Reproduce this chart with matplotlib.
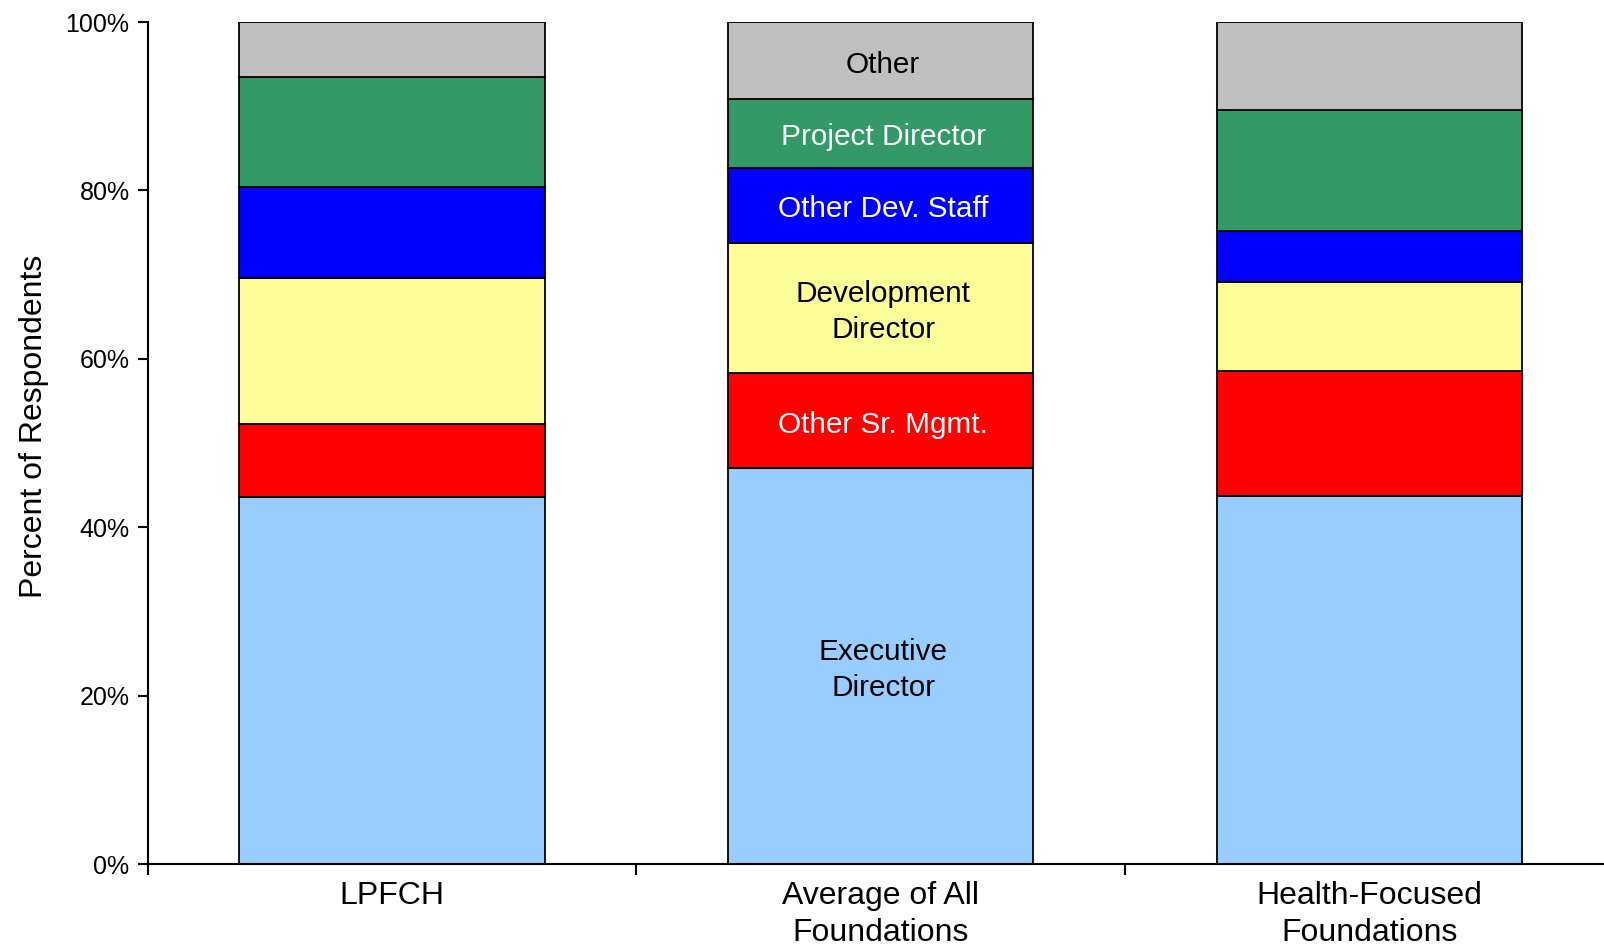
import numpy as np
import matplotlib.pyplot as plt

plt.rcParams['font.family'] = ['Liberation Sans', 'DejaVu Sans']

groups = ['LPFCH', 'Average of All\nFoundations', 'Health-Focused\nFoundations']
roles = ['Executive\nDirector', 'Other Sr. Mgmt.', 'Development\nDirector',
         'Other Dev. Staff', 'Project Director', 'Other']

# percent of respondents in each role, per group
executive = [43.6, 47.0, 43.7]
sr_mgmt = [8.7, 11.3, 14.9]
dev_director = [17.3, 15.5, 10.5]
dev_staff = [10.8, 8.9, 6.1]
project_dir = [13.1, 8.2, 14.3]
other = [6.5, 9.1, 10.5]

series = [executive, sr_mgmt, dev_director, dev_staff, project_dir, other]
colors = ['#99CCFF', '#FF0000', '#FCFC99', '#0000FF', '#339966', '#C0C0C0']
text_colors = ['black', 'white', 'black', 'white', 'white', 'black']

fig = plt.figure(figsize=(16.04, 9.5), dpi=100)
ax = fig.add_axes([0.092, 0.0905, 0.908, 0.8863])

x = np.arange(len(groups))
bottom = np.zeros(len(groups))
for vals, col, tc, name in zip(series, colors, text_colors, roles):
    vals = np.array(vals)
    ax.bar(x, vals, 0.625, bottom=bottom, color=col, edgecolor='black', linewidth=1.3)
    # segment labels only on the middle bar
    ax.text(x[1] + 0.005, bottom[1] + vals[1] / 2 - 0.5, name, ha='center', va='center',
            color=tc, fontsize=21.4, linespacing=1.36)
    bottom += vals

ax.set_ylim(0, 100)
ax.set_xlim(-0.5, 2.48)
ax.set_yticks(np.arange(0, 101, 20))
ax.set_yticklabels([f'{v}%' for v in range(0, 101, 20)], fontsize=18)
ax.set_ylabel('Percent of Respondents', fontsize=23)
ax.yaxis.set_label_coords(-0.068, 0.52)

ax.set_xticks([-0.5, 0.5, 1.5])
ax.set_xticklabels([])
ax.set_xticks(x, minor=True)
ax.set_xticklabels(groups, minor=True, fontsize=23, linespacing=1.33)
ax.tick_params(axis='x', which='minor', length=0, pad=12)
ax.tick_params(axis='x', which='major', direction='out', length=8, width=1.5)
ax.tick_params(axis='y', direction='out', length=7, width=1.5, pad=6)

for s in ['top', 'right']:
    ax.spines[s].set_visible(False)
for s in ['left', 'bottom']:
    ax.spines[s].set_linewidth(1.5)

fig.savefig('out.png', dpi=100)
